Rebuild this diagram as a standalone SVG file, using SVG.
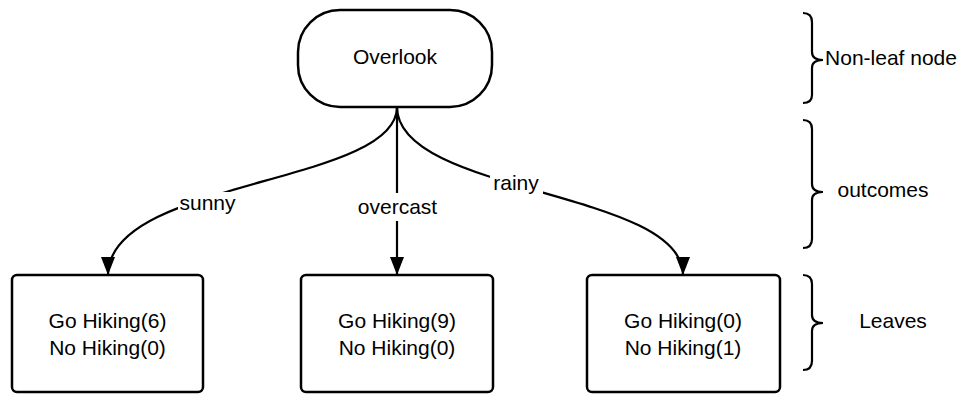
<svg xmlns="http://www.w3.org/2000/svg" width="964" height="394" viewBox="0 0 964 394">
<style>
.box{fill:#fff;stroke:#000;stroke-width:2.5}
.t{font-family:"Liberation Sans",Arial,sans-serif;font-size:21px;fill:#000;text-anchor:middle}
.c{fill:none;stroke:#000;stroke-width:2.2}
.br{fill:none;stroke:#000;stroke-width:2.2}
.bg{fill:#fff}
</style>
<defs>
<marker id="ah" markerUnits="userSpaceOnUse" markerWidth="20" markerHeight="16" refX="18" refY="7" orient="auto">
<path d="M0,0 L18,7 L0,14 z" fill="#000"/>
</marker>
</defs>
<g id="connectors">
<path class="c" d="M397,107 C397,185 108,179 108,275" marker-end="url(#ah)"/>
<path class="c" d="M397,107 L397,275" marker-end="url(#ah)"/>
<path class="c" d="M397,107 C397,194 683,190 683,275" marker-end="url(#ah)"/>
<rect class="bg" x="178" y="192" width="59" height="24"/>
<text class="t" x="207.5" y="210">sunny</text>
<rect class="bg" x="352" y="193" width="91" height="28"/>
<text class="t" x="397.5" y="214">overcast</text>
<rect class="bg" x="490" y="173" width="53" height="22"/>
<text class="t" x="516" y="190">rainy</text>
</g>
<g id="overlook">
<rect class="box" x="298" y="10" width="194" height="97" rx="42" ry="42"/>
<text class="t" x="395" y="64">Overlook</text>
</g>
<g id="leaf-sunny">
<rect class="box" x="12" y="275" width="191" height="117" rx="5"/>
<text class="t" x="107.5" y="328">Go Hiking(6)</text>
<text class="t" x="107.5" y="355">No Hiking(0)</text>
</g>
<g id="leaf-overcast">
<rect class="box" x="301" y="275" width="192" height="117" rx="5"/>
<text class="t" x="397" y="328">Go Hiking(9)</text>
<text class="t" x="397" y="355">No Hiking(0)</text>
</g>
<g id="leaf-rainy">
<rect class="box" x="587" y="275" width="193" height="117" rx="5"/>
<text class="t" x="683" y="328">Go Hiking(0)</text>
<text class="t" x="683" y="355">No Hiking(1)</text>
</g>
<g id="brace-nonleaf">
<path class="br" d="M803,13 Q812,13 812,22 L812,52 Q812,60 823,60 Q812,60 812,68 L812,95 Q812,103 803,103"/>
<text class="t" x="891" y="65">Non-leaf node</text>
</g>
<g id="brace-outcomes">
<path class="br" d="M803,120 Q812,120 812,129 L812,184 Q812,192 823,192 Q812,192 812,200 L812,239 Q812,248 803,248"/>
<text class="t" x="883" y="197">outcomes</text>
</g>
<g id="brace-leaves">
<path class="br" d="M803,275 Q812,275 812,284 L812,315 Q812,323 823,323 Q812,323 812,331 L812,361 Q812,370 803,370"/>
<text class="t" x="893" y="328">Leaves</text>
</g>
</svg>
